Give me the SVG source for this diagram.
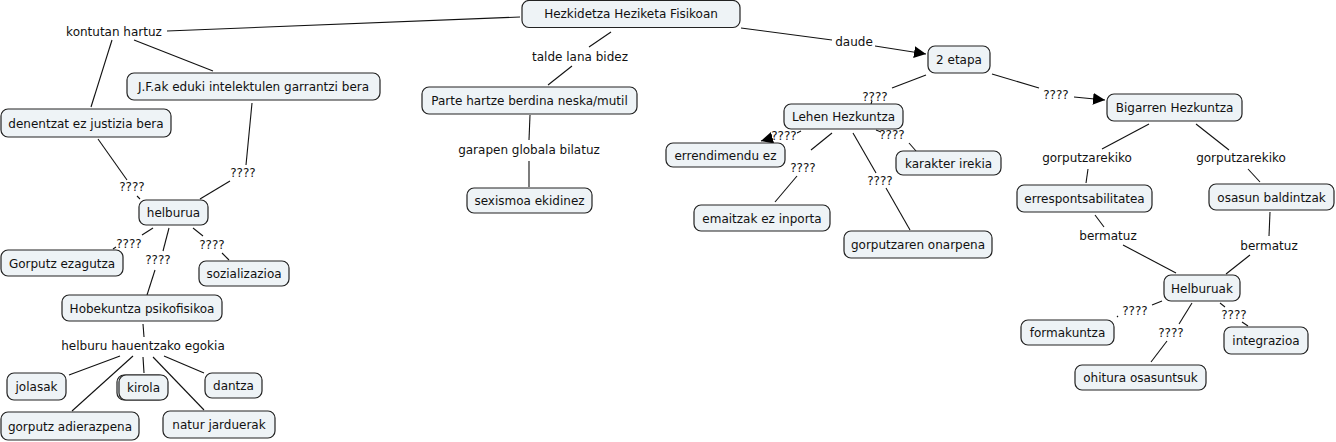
<svg xmlns="http://www.w3.org/2000/svg" width="1336" height="442" viewBox="0 0 1336 442">
<style>
.n rect{fill:#eef3f6;stroke:#222;stroke-width:1.2}
text{font-family:"DejaVu Sans",Verdana,sans-serif;font-size:12px;fill:#111;text-anchor:middle}
.c line{stroke:#111;stroke-width:1.1}
</style>
<defs>
<marker id="ah" viewBox="0 0 10 10" refX="10" refY="5" markerWidth="12" markerHeight="12" markerUnits="userSpaceOnUse" orient="auto">
<path d="M0,0 L10,5 L0,10 z" fill="#000"/>
</marker>
</defs>
<rect width="1336" height="442" fill="#fff"/>
<g id="connectors" class="c">
<line x1="520" y1="17" x2="167" y2="31"/>
<line x1="112" y1="40" x2="91" y2="107"/>
<line x1="134" y1="40" x2="213" y2="71"/>
<line x1="252" y1="103" x2="246" y2="165"/>
<line x1="230" y1="181" x2="200" y2="199"/>
<line x1="98" y1="139" x2="127" y2="180"/>
<line x1="137" y1="196" x2="140" y2="199"/>
<line x1="153" y1="228" x2="142" y2="235"/>
<line x1="116" y1="247" x2="113" y2="249"/>
<line x1="169" y1="228" x2="163" y2="251"/>
<line x1="155" y1="270" x2="147" y2="295"/>
<line x1="193" y1="228" x2="203" y2="236"/>
<line x1="222" y1="253" x2="229" y2="260"/>
<line x1="143" y1="324" x2="144" y2="337"/>
<line x1="120" y1="356" x2="69" y2="375"/>
<line x1="133" y1="356" x2="72" y2="411"/>
<line x1="143" y1="357" x2="144" y2="373"/>
<line x1="153" y1="357" x2="204" y2="410"/>
<line x1="164" y1="356" x2="204" y2="373"/>
<line x1="611" y1="32" x2="589" y2="47"/>
<line x1="572" y1="66" x2="548" y2="85"/>
<line x1="530" y1="115" x2="529" y2="140"/>
<line x1="529" y1="161" x2="529" y2="187"/>
<line x1="741" y1="28" x2="832" y2="40"/>
<line x1="875" y1="46" x2="926" y2="54" marker-end="url(#ah)"/>
<line x1="926" y1="75" x2="892" y2="88"/>
<line x1="872" y1="101" x2="871" y2="104"/>
<line x1="992" y1="74" x2="1039" y2="88"/>
<line x1="1074" y1="97" x2="1105" y2="100" marker-end="url(#ah)"/>
<line x1="801" y1="131" x2="797" y2="133"/>
<line x1="772" y1="138" x2="761" y2="141" marker-end="url(#ah)"/>
<line x1="876" y1="130" x2="881" y2="132"/>
<line x1="909" y1="143" x2="916" y2="151"/>
<line x1="832" y1="133" x2="811" y2="150"/>
<line x1="797" y1="176" x2="775" y2="202"/>
<line x1="853" y1="133" x2="876" y2="173"/>
<line x1="886" y1="188" x2="910" y2="230"/>
<line x1="1149" y1="124" x2="1102" y2="149"/>
<line x1="1088" y1="169" x2="1086" y2="183"/>
<line x1="1196" y1="124" x2="1229" y2="150"/>
<line x1="1248" y1="169" x2="1260" y2="182"/>
<line x1="1095" y1="215" x2="1104" y2="227"/>
<line x1="1123" y1="245" x2="1176" y2="273"/>
<line x1="1270" y1="212" x2="1269" y2="236"/>
<line x1="1250" y1="255" x2="1226" y2="274"/>
<line x1="1162" y1="301" x2="1152" y2="305"/>
<line x1="1118" y1="316" x2="1117" y2="317"/>
<line x1="1192" y1="303" x2="1179" y2="324"/>
<line x1="1167" y1="341" x2="1151" y2="362"/>
<line x1="1220" y1="303" x2="1225" y2="307"/>
<line x1="1242" y1="322" x2="1248" y2="326"/>
<text x="114" y="36">kontutan hartuz</text>
<text x="580" y="61">talde lana bidez</text>
<text x="529" y="154">garapen globala bilatuz</text>
<text x="854" y="46">daude</text>
<text x="143" y="350">helburu hauentzako egokia</text>
<text x="1087" y="162">gorputzarekiko</text>
<text x="1241" y="162">gorputzarekiko</text>
<text x="1108" y="240">bermatuz</text>
<text x="1269" y="250">bermatuz</text>
<text x="132" y="191">????</text>
<text x="243" y="177">????</text>
<text x="129" y="248">????</text>
<text x="158" y="264">????</text>
<text x="212" y="249">????</text>
<text x="875" y="101">????</text>
<text x="784" y="140">????</text>
<text x="892" y="139">????</text>
<text x="803" y="172">????</text>
<text x="880" y="185">????</text>
<text x="1056" y="99">????</text>
<text x="1135" y="315">????</text>
<text x="1171" y="337">????</text>
<text x="1234" y="319">????</text>
</g>
<g id="n1" class="n"><rect x="522" y="0.5" width="218" height="27" rx="7"/><text x="631" y="18">Hezkidetza Heziketa Fisikoan</text></g>
<g id="n2" class="n"><rect x="928" y="46" width="62" height="27" rx="7"/><text x="959" y="64">2 etapa</text></g>
<g id="n3" class="n"><rect x="784" y="104" width="119" height="25" rx="7"/><text x="843.5" y="121">Lehen Hezkuntza</text></g>
<g id="n4" class="n"><rect x="1107" y="94" width="135" height="27" rx="7"/><text x="1174.5" y="112">Bigarren Hezkuntza</text></g>
<g id="n5" class="n"><rect x="127" y="73" width="253" height="27" rx="7"/><text x="253.5" y="91">J.F.ak eduki intelektulen garrantzi bera</text></g>
<g id="n6" class="n"><rect x="1" y="109" width="170" height="28" rx="7"/><text x="86" y="127.5">denentzat ez justizia bera</text></g>
<g id="n7" class="n"><rect x="422" y="87" width="215" height="27" rx="7"/><text x="529.5" y="105">Parte hartze berdina neska/mutil</text></g>
<g id="n8" class="n"><rect x="467" y="188" width="125" height="25" rx="7"/><text x="529.5" y="205">sexismoa ekidinez</text></g>
<g id="n9" class="n"><rect x="139" y="200" width="69" height="25" rx="7"/><text x="173.5" y="217">helburua</text></g>
<g id="n10" class="n"><rect x="1" y="250" width="122" height="26" rx="7"/><text x="62" y="267.5">Gorputz ezagutza</text></g>
<g id="n11" class="n"><rect x="199" y="261" width="90" height="25" rx="7"/><text x="244" y="278">sozializazioa</text></g>
<g id="n12" class="n"><rect x="62" y="295" width="160" height="26" rx="7"/><text x="142" y="312.5">Hobekuntza psikofisikoa</text></g>
<g id="n13" class="n"><rect x="7" y="373" width="59" height="27" rx="7"/><text x="36.5" y="391">jolasak</text></g>
<g id="n14" class="n"><rect x="117" y="375" width="49" height="25" rx="7"/><rect x="119" y="375" width="49" height="25" rx="7"/><text x="143.5" y="392">kirola</text></g>
<g id="n15" class="n"><rect x="205" y="373" width="57" height="25" rx="7"/><text x="233.5" y="390">dantza</text></g>
<g id="n16" class="n"><rect x="1" y="412" width="138" height="28" rx="7"/><text x="70" y="430.5">gorputz adierazpena</text></g>
<g id="n17" class="n"><rect x="163" y="411" width="112" height="27" rx="7"/><text x="219" y="429">natur jarduerak</text></g>
<g id="n18" class="n"><rect x="666" y="143" width="119" height="24" rx="7"/><text x="725.5" y="159.5">errendimendu ez</text></g>
<g id="n19" class="n"><rect x="896" y="151" width="105" height="24" rx="7"/><text x="948.5" y="167.5">karakter irekia</text></g>
<g id="n20" class="n"><rect x="694" y="205" width="136" height="26" rx="7"/><text x="762" y="222.5">emaitzak ez inporta</text></g>
<g id="n21" class="n"><rect x="844" y="231" width="148" height="27" rx="7"/><text x="918" y="249">gorputzaren onarpena</text></g>
<g id="n22" class="n"><rect x="1017" y="185" width="135" height="27" rx="7"/><text x="1084.5" y="203">errespontsabilitatea</text></g>
<g id="n23" class="n"><rect x="1209" y="184" width="125" height="26" rx="7"/><text x="1271.5" y="201.5">osasun baldintzak</text></g>
<g id="n24" class="n"><rect x="1164" y="275" width="76" height="26" rx="7"/><text x="1202" y="292.5">Helburuak</text></g>
<g id="n25" class="n"><rect x="1021" y="320" width="93" height="25" rx="7"/><text x="1067.5" y="337">formakuntza</text></g>
<g id="n26" class="n"><rect x="1224" y="327" width="84" height="27" rx="7"/><text x="1266" y="345">integrazioa</text></g>
<g id="n27" class="n"><rect x="1075" y="365" width="131" height="25" rx="7"/><text x="1140.5" y="382">ohitura osasuntsuk</text></g>
</svg>
